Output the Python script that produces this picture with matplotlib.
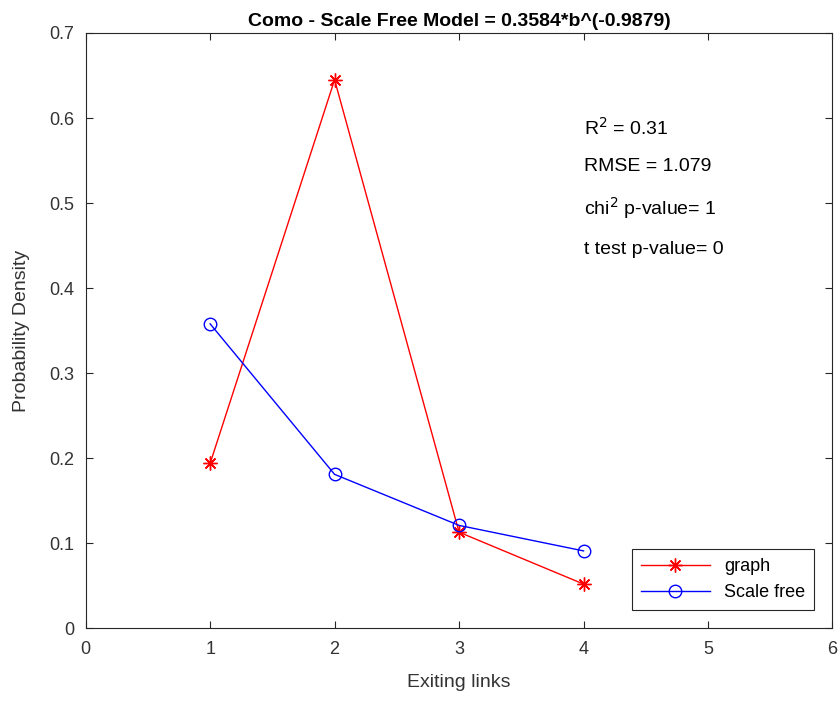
import numpy as np
import matplotlib.pyplot as plt

plt.rcParams['font.family'] = ['Liberation Sans', 'DejaVu Sans']

# data
links = [1, 2, 3, 4]
graph_density = [0.194, 0.645, 0.113, 0.052]
scale_free = [0.358, 0.181, 0.121, 0.091]

stats_lines = ['R$^2$ = 0.31', 'RMSE = 1.079', 'chi$^2$ p-value= 1', 't test p-value= 0']
stats_y = [0.588, 0.543, 0.494, 0.445]

fig = plt.figure(figsize=(8.4, 7.02), dpi=100)
ax = fig.add_axes([0.102, 0.105, 0.889, 0.848])

ax.plot(links, graph_density, color='#ff0000', marker=(8, 2, 0), markersize=10,
        markeredgewidth=1, linewidth=1, label='graph')
ax.plot(links, scale_free, color='#0000ff', marker='o', markersize=9,
        markerfacecolor='none', linewidth=1, label='Scale free')

ax.set_xlim(0, 6)
ax.set_ylim(0, 0.7)
ax.set_xticks(range(0, 7))
ax.set_yticks(np.arange(0, 0.71, 0.1))
ax.set_yticklabels(['0', '0.1', '0.2', '0.3', '0.4', '0.5', '0.6', '0.7'])
ax.tick_params(direction='in', labelsize=13, colors='#262626', labelcolor='#333333',
               length=5, top=True, right=True)
ax.tick_params(axis='x', pad=9)
ax.tick_params(axis='y', pad=8)
for s in ax.spines.values():
    s.set_color('#262626')
    s.set_linewidth(0.8)

ax.set_xlabel('Exiting links', fontsize=14, color='#333333', labelpad=12)
ax.set_ylabel('Probability Density', fontsize=14, color='#333333', labelpad=14)
ax.set_title('Como - Scale Free Model = 0.3584*b^(-0.9879)', fontsize=14,
             fontweight='bold', pad=5)

for txt, yy in zip(stats_lines, stats_y):
    ax.text(4.0, yy, txt, fontsize=14, va='center', ha='left')

leg = ax.legend(loc='lower right', fontsize=13, fancybox=False, framealpha=1,
                edgecolor='#262626', borderaxespad=1.0, handlelength=3.8,
                borderpad=0.5)
leg.get_frame().set_linewidth(0.8)

fig.savefig('out.png', dpi=100)
